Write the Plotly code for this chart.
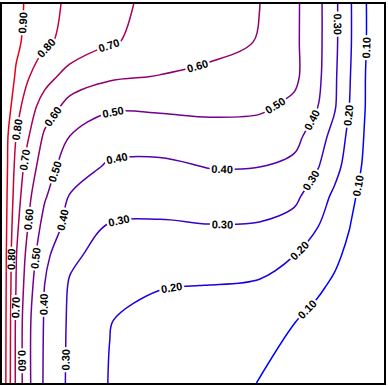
import plotly.graph_objects as go

# grid (x left->right, y bottom->top)
x_vals = [0, 0.016, 0.037, 0.068, 0.112, 0.178, 0.282, 0.413, 0.543, 0.674,
          0.765, 0.825, 0.869, 0.909, 0.948, 1.0]
y_vals = [0, 0.165, 0.257, 0.336, 0.415, 0.493, 0.572, 0.651, 0.730, 0.808,
          0.900, 1.0]

z_y000 = [0.995, 0.844, 0.683, 0.522, 0.385, 0.281, 0.196, 0.164, 0.131, 0.098, 0.071, 0.053, 0.039, 0.028, 0.016, 0.0]
z_y165 = [0.995, 0.850, 0.684, 0.523, 0.390, 0.284, 0.202, 0.174, 0.147, 0.121, 0.102, 0.078, 0.058, 0.041, 0.023, 0.0]
z_y257 = [0.995, 0.856, 0.697, 0.543, 0.398, 0.290, 0.235, 0.204, 0.199, 0.190, 0.155, 0.113, 0.089, 0.062, 0.036, 0.0]
z_y336 = [0.995, 0.861, 0.704, 0.568, 0.422, 0.318, 0.261, 0.247, 0.247, 0.237, 0.200, 0.152, 0.116, 0.083, 0.047, 0.0]
z_y415 = [0.995, 0.871, 0.724, 0.600, 0.463, 0.368, 0.294, 0.290, 0.297, 0.293, 0.264, 0.205, 0.152, 0.103, 0.059, 0.0]
z_y493 = [0.995, 0.880, 0.750, 0.622, 0.510, 0.394, 0.339, 0.336, 0.351, 0.348, 0.322, 0.246, 0.184, 0.125, 0.070, 0.0]
z_y572 = [0.995, 0.890, 0.771, 0.659, 0.544, 0.451, 0.387, 0.382, 0.404, 0.402, 0.376, 0.309, 0.235, 0.160, 0.087, 0.0]
z_y651 = [0.995, 0.898, 0.800, 0.708, 0.583, 0.499, 0.445, 0.444, 0.463, 0.462, 0.432, 0.346, 0.269, 0.179, 0.098, 0.0]
z_y730 = [0.995, 0.935, 0.839, 0.747, 0.655, 0.566, 0.514, 0.517, 0.521, 0.514, 0.480, 0.405, 0.314, 0.200, 0.106, 0.0]
z_y808 = [0.995, 0.951, 0.888, 0.807, 0.736, 0.660, 0.614, 0.596, 0.580, 0.553, 0.521, 0.426, 0.320, 0.208, 0.107, 0.0]
z_y900 = [0.995, 0.966, 0.920, 0.872, 0.816, 0.769, 0.708, 0.669, 0.628, 0.596, 0.520, 0.430, 0.327, 0.215, 0.113, 0.0]
z_y1000 = [0.995, 0.970, 0.930, 0.883, 0.834, 0.781, 0.723, 0.675, 0.638, 0.601, 0.521, 0.430, 0.327, 0.215, 0.113, 0.0]

z = [z_y000, z_y165, z_y257, z_y336, z_y415, z_y493, z_y572, z_y651,
     z_y730, z_y808, z_y900, z_y1000]

fig = go.Figure(
    go.Contour(
        x=x_vals,
        y=y_vals,
        z=z,
        zmin=0,
        zmax=1,
        colorscale=[[0, "rgb(0,0,255)"], [1, "rgb(255,0,0)"]],
        showscale=False,
        # levels run far past the data so plotly spaces labels more densely
        contours=dict(
            start=0.1,
            end=9.0,
            size=0.1,
            coloring="lines",
            showlabels=True,
            labelformat=".2f",
            labelfont=dict(family="Liberation Sans", size=11, color="black", weight="bold"),
        ),
        line=dict(width=1.5, smoothing=1),
        hoverinfo="skip",
    )
)

axis_style = dict(
    range=[0, 1],
    showgrid=False,
    zeroline=False,
    showticklabels=False,
    ticks="",
    showline=True,
    mirror=True,
    linecolor="black",
    linewidth=1.5,
)

fig.update_layout(
    width=388,
    height=386,
    margin=dict(l=2, r=3, t=2, b=3, pad=0),
    plot_bgcolor="white",
    paper_bgcolor="white",
    xaxis=axis_style,
    yaxis=axis_style,
    showlegend=False,
)

fig.write_html(
    "out.html",
    config={"displayModeBar": False},
    post_script="document.body.style.margin='0px';",
)
